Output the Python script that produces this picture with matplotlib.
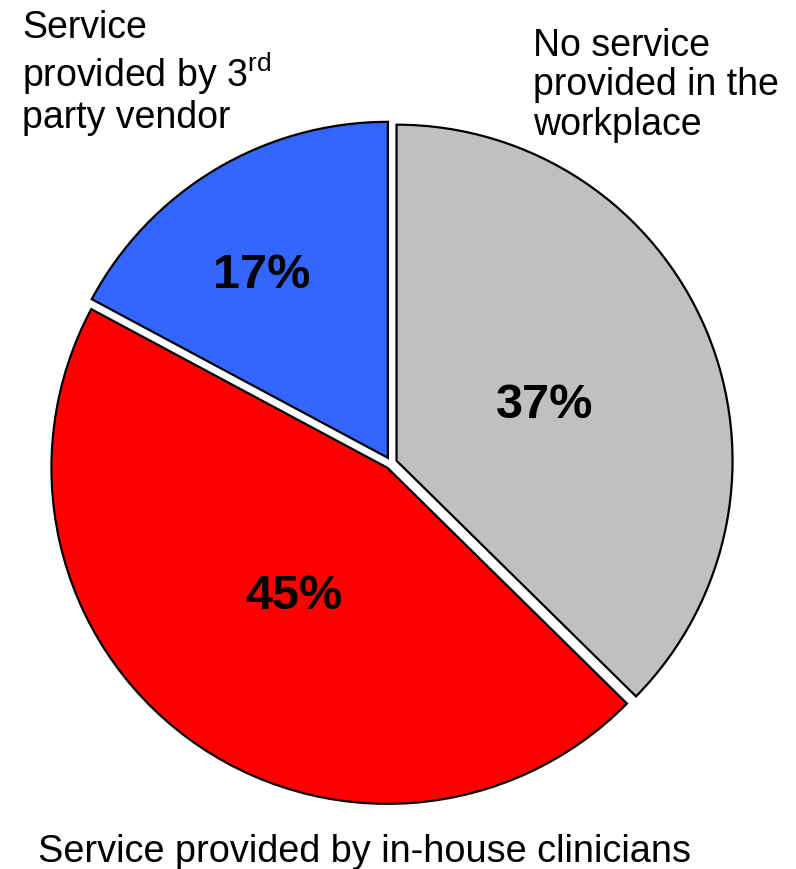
import matplotlib
matplotlib.use("Agg")
import matplotlib.pyplot as plt
import numpy as np

plt.rcParams['font.family'] = ['Liberation Sans', 'DejaVu Sans']
plt.rcParams['mathtext.fontset'] = 'custom'
plt.rcParams['mathtext.rm'] = 'Liberation Sans'

# data
labels = ['No service\nprovided in the\nworkplace',
          'Service provided by in-house clinicians',
          'Service\nprovided by 3$^{\\mathrm{rd}}$\nparty vendor']
values = [37, 45, 17]
colors = ['#C0C0C0', '#FF0000', '#3366FF']
pct_dist = [0.49, 0.49, 0.68]
pct_turn = [-2, 0, 3.5]   # small angle tweak for the % labels

W, H = 796, 870
fig = plt.figure(figsize=(W / 100, H / 100), dpi=100)
ax = fig.add_axes([0, 0, 1, 1])

R = 336
cx, cy = 391, H - 464

wedges, texts, autotexts = ax.pie(
    values, colors=colors, startangle=90, counterclock=False,
    explode=[6] * 3, radius=R, center=(cx, cy), frame=True,
    autopct=lambda p: '%d%%' % round(p * 99 / 100),
    wedgeprops=dict(edgecolor='black', linewidth=1.6),
    textprops=dict(fontsize=35, fontweight='bold', color='black'))
ax.set_xlim(0, W)
ax.set_ylim(0, H)
ax.axis('off')

# move percentage labels
for w, t, d, a in zip(wedges, autotexts, pct_dist, pct_turn):
    ang = np.deg2rad((w.theta1 + w.theta2) / 2 + a)
    t.set_position((cx + d * R * np.cos(ang), cy + d * R * np.sin(ang)))

# outside labels
ax.text(533, H - 28, labels[0], fontsize=27, ha='left', va='top', linespacing=1.12)
ax.text(22, H - 10, labels[2], fontsize=27, ha='left', va='top', linespacing=1.12)
ax.text(38, H - 862, labels[1], fontsize=27.3, ha='left', va='baseline')

fig.savefig('out.png', dpi=100)
